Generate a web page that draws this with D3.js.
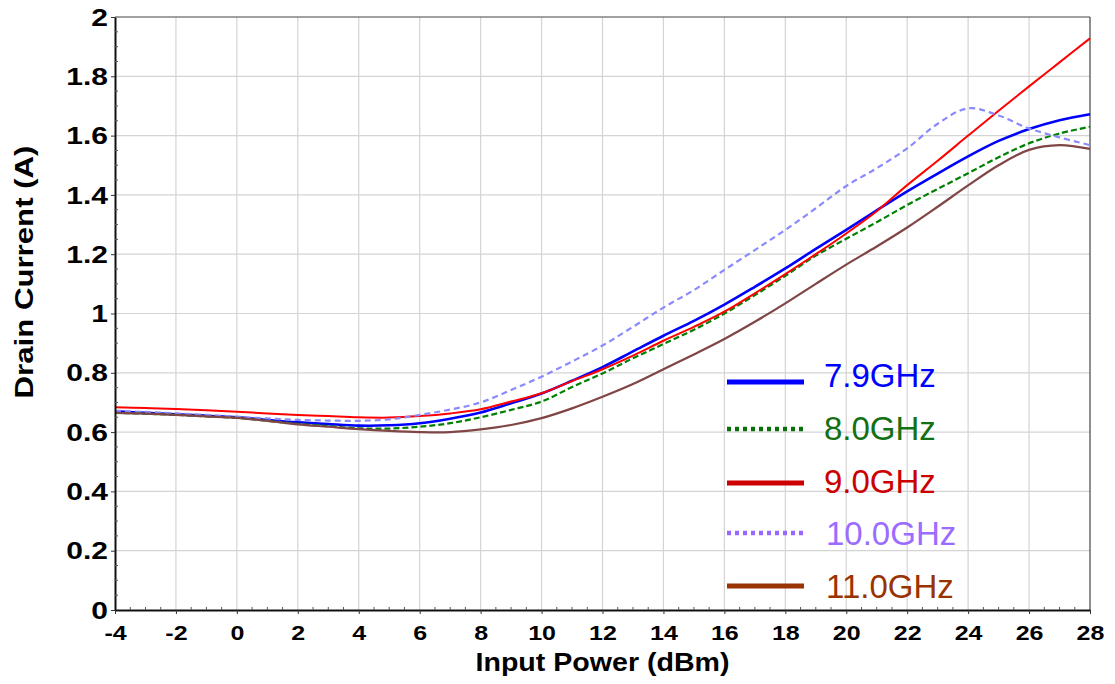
<!DOCTYPE html>
<html>
<head>
<meta charset="utf-8">
<script src="https://cdn.jsdelivr.net/npm/d3@7/dist/d3.min.js"></script>
<style>
  html, body { margin: 0; padding: 0; background: #fff; }
  svg { display: block; font-family: "Liberation Sans", Arial, sans-serif; }
</style>
</head>
<body>
<svg id="chart" width="1115" height="684"></svg>
<script>
// ---- data ----
const inputPower = [-4,-3,-2,-1,0,1,2,3,4,5,6,7,8,9,10,11,12,13,14,15,16,17,18,19,20,21,22,23,24,25,26,27,28];
const current79 = [0.670,0.665,0.660,0.655,0.650,0.641,0.633,0.627,0.622,0.623,0.630,0.645,0.666,0.697,0.730,0.773,0.819,0.872,0.925,0.975,1.030,1.090,1.152,1.218,1.282,1.348,1.412,1.472,1.530,1.582,1.622,1.652,1.672];
const current80 = [0.665,0.662,0.658,0.653,0.648,0.638,0.628,0.620,0.613,0.612,0.618,0.630,0.650,0.675,0.703,0.752,0.798,0.849,0.897,0.945,1.000,1.062,1.127,1.195,1.252,1.308,1.366,1.420,1.473,1.527,1.574,1.607,1.630];
const current90 = [0.684,0.681,0.678,0.674,0.669,0.663,0.658,0.654,0.650,0.649,0.654,0.663,0.677,0.703,0.731,0.772,0.812,0.858,0.908,0.955,1.006,1.068,1.133,1.200,1.270,1.345,1.433,1.515,1.600,1.684,1.766,1.847,1.928];
const current100 = [0.672,0.668,0.663,0.658,0.652,0.646,0.641,0.639,0.638,0.643,0.658,0.676,0.700,0.742,0.787,0.838,0.892,0.955,1.020,1.079,1.147,1.214,1.282,1.355,1.430,1.490,1.557,1.640,1.692,1.668,1.624,1.594,1.568];
const current110 = [0.665,0.662,0.658,0.653,0.648,0.638,0.626,0.618,0.610,0.604,0.600,0.600,0.609,0.624,0.647,0.680,0.719,0.762,0.812,0.862,0.914,0.972,1.034,1.100,1.165,1.226,1.290,1.360,1.432,1.500,1.552,1.568,1.555];
const seriesNames = ["7.9GHz","8.0GHz","9.0GHz","10.0GHz","11.0GHz"];
const xTicks = [-4,-2,0,2,4,6,8,10,12,14,16,18,20,22,24,26,28];
const yTicks = [0,0.2,0.4,0.6,0.8,1,1.2,1.4,1.6,1.8,2];

// ---- styles ----
const seriesValues = [current79, current80, current90, current100, current110];
const lineStyle = [
  {color:"#0000ff", width:2.6, dash:null},
  {color:"#008000", width:2.2, dash:"6,3"},
  {color:"#ff0000", width:2.0, dash:null},
  {color:"#8a8aff", width:2.2, dash:"6,4"},
  {color:"#804545", width:2.2, dash:null}
];
const legendStyle = [
  {color:"#0000ff", text:"#0000ff", width:5, dash:null},
  {color:"#0a700a", text:"#137013", width:4.5, dash:"4,4"},
  {color:"#cc0000", text:"#cc0000", width:5, dash:null},
  {color:"#9966ff", text:"#9a6cff", width:4.5, dash:"4,4"},
  {color:"#993300", text:"#993300", width:5, dash:null}
];

const svg = d3.select("#chart");
const L = 115, T = 17, R = 1090, B = 610;
const x = d3.scaleLinear().domain([-4, 28]).range([L, R]);
const y = d3.scaleLinear().domain([0, 2]).range([B, T]);

// grid
const grid = svg.append("g");
grid.selectAll("line.v").data(xTicks.slice(1, -1)).join("line")
  .attr("x1", d => x(d)).attr("x2", d => x(d)).attr("y1", T).attr("y2", B)
  .attr("stroke", "#d4d4d4").attr("stroke-width", 1.2);
grid.selectAll("line.h").data(yTicks.slice(1, -1)).join("line")
  .attr("x1", L).attr("x2", R).attr("y1", d => y(d)).attr("y2", d => y(d))
  .attr("stroke", "#d4d4d4").attr("stroke-width", 1.2);

// frame top/right
svg.append("line").attr("x1", L).attr("x2", R).attr("y1", T).attr("y2", T).attr("stroke", "#444").attr("stroke-width", 1.2);
svg.append("line").attr("x1", R).attr("x2", R).attr("y1", T).attr("y2", B).attr("stroke", "#444").attr("stroke-width", 1.2);

// lines
const lineGen = d3.line().curve(d3.curveCatmullRom.alpha(0.5));
const plot = svg.append("g");
seriesValues.forEach((vals, i) => {
  const pts = inputPower.map((p, j) => [x(p), y(vals[j])]);
  const st = lineStyle[i];
  const path = plot.append("path").attr("d", lineGen(pts)).attr("fill", "none")
    .attr("stroke", st.color).attr("stroke-width", st.width).attr("stroke-linejoin", "round");
  if (st.dash) path.attr("stroke-dasharray", st.dash);
});

// axes
const xAxis = svg.append("g").attr("transform", `translate(0,${B})`)
  .call(d3.axisBottom(x).tickValues(xTicks).tickSize(4).tickSizeOuter(0).tickPadding(12).tickFormat(d => String(d)));
const yAxis = svg.append("g").attr("transform", `translate(${L},0)`)
  .call(d3.axisLeft(y).tickValues(yTicks).tickSize(4).tickSizeOuter(0).tickPadding(3).tickFormat(d => String(d)));
[xAxis, yAxis].forEach(a => {
  a.select(".domain").attr("stroke", "#111").attr("stroke-width", 2);
  a.selectAll(".tick line").attr("stroke", "#333").attr("stroke-width", 1);
  a.selectAll("text").attr("fill", "#000").attr("font-weight", "bold")
    .attr("font-family", "'Liberation Sans', Arial, sans-serif");
});
xAxis.selectAll("text").attr("font-size", 20);
yAxis.selectAll("text").attr("font-size", 24).attr("dy", "0.34em");
xAxis.selectAll("text").each(function() {
  const w = this.getComputedTextLength();
  d3.select(this).attr("textLength", w * 1.25).attr("lengthAdjust", "spacingAndGlyphs");
});
yAxis.selectAll("text").each(function() {
  const w = this.getComputedTextLength();
  d3.select(this).attr("textLength", w * 1.25).attr("lengthAdjust", "spacingAndGlyphs");
});

// minor ticks
const minorX = d3.range(-4, 28.01, 0.5).filter(v => v % 2 !== 0);
svg.append("g").selectAll("line").data(minorX).join("line")
  .attr("x1", d => x(d)).attr("x2", d => x(d)).attr("y1", B).attr("y2", B - 3)
  .attr("stroke", "#555").attr("stroke-width", 1);
const minorY = d3.range(0, 2.001, 0.05).filter(v => Math.abs(v * 5 - Math.round(v * 5)) > 1e-6);
svg.append("g").selectAll("line").data(minorY).join("line")
  .attr("x1", L).attr("x2", L + 3).attr("y1", d => y(d)).attr("y2", d => y(d))
  .attr("stroke", "#555").attr("stroke-width", 1);

// axis titles
svg.append("text").attr("x", (L + R) / 2).attr("y", 671).attr("text-anchor", "middle")
  .attr("font-size", 25).attr("font-weight", "bold").attr("textLength", 254).attr("lengthAdjust", "spacingAndGlyphs")
  .text("Input Power (dBm)");
svg.append("text").attr("transform", `translate(33,${272}) rotate(-90)`).attr("text-anchor", "middle")
  .attr("font-size", 25).attr("font-weight", "bold").attr("textLength", 253).attr("lengthAdjust", "spacingAndGlyphs")
  .text("Drain Current (A)");

// legend
const legY = [382, 429, 483, 533, 586];
const legTextY = [387, 440, 493, 545, 598];
const lg = svg.append("g");
seriesNames.forEach((name, i) => {
  const st = legendStyle[i];
  const ln = lg.append("line").attr("x1", 727).attr("x2", 804).attr("y1", legY[i]).attr("y2", legY[i])
    .attr("stroke", st.color).attr("stroke-width", st.width);
  if (st.dash) ln.attr("stroke-dasharray", st.dash);
  lg.append("text").attr("x", name.length > 6 ? 826 : 824).attr("y", legTextY[i])
    .attr("font-size", 33).attr("fill", st.text).text(name);
});
</script>
</body>
</html>
